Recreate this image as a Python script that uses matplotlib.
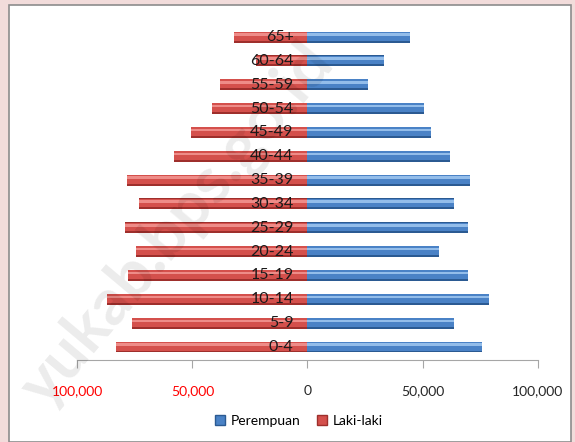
import matplotlib.pyplot as plt
import matplotlib.patches as mpatches
from matplotlib.ticker import FuncFormatter

# age groups, youngest at the bottom
age_groups = ['0-4', '5-9', '10-14', '15-19', '20-24', '25-29', '30-34',
              '35-39', '40-44', '45-49', '50-54', '55-59', '60-64', '65+']
laki_laki = [83300, 76400, 87000, 77800, 74600, 79200, 73300,
             78500, 57800, 50700, 41400, 38000, 22300, 32100]
perempuan = [76000, 63700, 78800, 69900, 57000, 69900, 63600,
             70400, 61700, 53800, 50500, 26400, 33400, 44700]
x_ticks = [-100000, -50000, 0, 50000, 100000]

RED = ('#9e2f2c', '#d4504c', '#ee8c88')
BLUE = ('#2b5a92', '#4a82c6', '#93bdea')


def shaded_bars(ax, y, widths, colors, h=0.46):
    dark, mid, light = colors
    ax.barh(y, widths, height=h, color=dark, edgecolor='none', zorder=2)
    ax.barh([v + h * 0.08 for v in y], widths, height=h * 0.8, color=mid,
            edgecolor='none', zorder=3)
    ax.barh([v + h * 0.22 for v in y], widths, height=h * 0.22, color=light,
            edgecolor='none', zorder=4)


fig = plt.figure(figsize=(5.75, 4.42), dpi=100)
fig.patch.set_facecolor('#f2dcdb')
panel = mpatches.Rectangle((9 / 575, 0), 562 / 575, 437 / 442, transform=fig.transFigure,
                           facecolor='white', edgecolor='#8c8c8c', lw=1.2, zorder=-5)
fig.patches.append(panel)

ax = fig.add_axes([0.1344, 0.1855, 0.8007, 0.7631])
ax.set_zorder(1)
ax.set_facecolor('none')

y = list(range(len(age_groups)))
shaded_bars(ax, y, [-v for v in laki_laki], RED)
shaded_bars(ax, y, perempuan, BLUE)

for yi, label in zip(y, age_groups):
    ax.text(-6000, yi, label, ha='right', va='center', fontsize=11.5,
            family='Lato', color='#1a1a1a', zorder=5)

ax.set_xlim(-100000, 100000)
ax.set_ylim(-0.545, 13.6)
ax.set_xticks(x_ticks)
ax.xaxis.set_major_formatter(FuncFormatter(lambda v, p: f'{abs(int(v)):,}'))
ax.set_yticks([])
for s in ['top', 'left', 'right']:
    ax.spines[s].set_visible(False)
ax.spines['bottom'].set_color('#a6a6a6')
ax.tick_params(axis='x', direction='out', length=6, color='#a6a6a6', pad=12,
               labelsize=10)
for t in ax.get_xticklabels():
    t.set_family('Lato')
    t.set_color('#ff0000' if t.get_position()[0] < 0 else '#262626')

handles = [mpatches.Patch(facecolor=BLUE[1], edgecolor=BLUE[0], label='Perempuan'),
           mpatches.Patch(facecolor=RED[1], edgecolor=RED[0], label='Laki-laki')]
fig.legend(handles=handles, loc='center', bbox_to_anchor=(0.52, 0.048), ncol=2,
           frameon=False, prop={'family': 'Lato', 'size': 10}, handlelength=0.7,
           handleheight=0.7, handletextpad=0.4, columnspacing=1.2)

# site watermark
fig.text(0.31, 0.49, 'yukab.bps.go.id', rotation=50, ha='center', va='center',
         fontsize=47, fontweight='bold', family='Lato', color='#000000', alpha=0.08,
         zorder=10)

fig.savefig('out.png', dpi=100, facecolor=fig.get_facecolor())
